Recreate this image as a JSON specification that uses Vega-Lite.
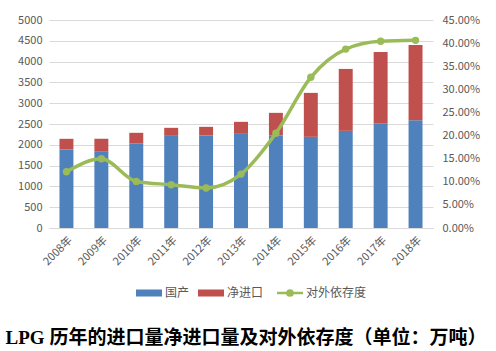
{
  "$schema": "https://vega.github.io/schema/vega-lite/v6.json",
  "autosize": {"type": "none"},
  "width": 384,
  "height": 208,
  "padding": {"left": 49, "top": 20, "right": 63, "bottom": 123},
  "background": "#ffffff",
  "config": {
    "view": {"stroke": null},
    "font": "Noto Sans CJK SC",
    "axis": {"labelColor": "#595959", "labelFontSize": 11, "labelFont": "Noto Sans CJK SC", "title": null}
  },
  "title": {
    "text": "LPG 历年的进口量净进口量及对外依存度（单位：万吨）",
    "orient": "bottom",
    "anchor": "middle",
    "font": "Liberation Serif, Noto Sans CJK SC",
    "fontSize": 19,
    "fontWeight": "bold",
    "color": "#000000",
    "offset": 28,
    "dx": 5
  },
  "data": {
    "values": [
      {"year": "2008年", "国产": 1888, "净进口": 256, "ratio": 0.1217},
      {"year": "2009年", "国产": 1832, "净进口": 312, "ratio": 0.1497},
      {"year": "2010年", "国产": 2040, "净进口": 248, "ratio": 0.1008},
      {"year": "2011年", "国产": 2216, "净进口": 192, "ratio": 0.0936},
      {"year": "2012年", "国产": 2224, "净进口": 208, "ratio": 0.0864},
      {"year": "2013年", "国产": 2264, "净进口": 288, "ratio": 0.1166},
      {"year": "2014年", "国产": 2224, "净进口": 544, "ratio": 0.205},
      {"year": "2015年", "国产": 2192, "净进口": 1056, "ratio": 0.326},
      {"year": "2016年", "国产": 2336, "净进口": 1488, "ratio": 0.387},
      {"year": "2017年", "国产": 2520, "净进口": 1712, "ratio": 0.404},
      {"year": "2018年", "国产": 2592, "净进口": 1808, "ratio": 0.406}
    ]
  },
  "encoding": {
    "x": {
      "field": "year",
      "type": "ordinal",
      "sort": null,
      "scale": {"paddingInner": 0.6, "paddingOuter": 0.3},
      "axis": {"labelAngle": -45, "ticks": false, "domain": true, "domainColor": "#D9D9D9", "labelPadding": 6, "grid": false}
    }
  },
  "layer": [
    {
      "transform": [{"fold": ["国产", "净进口"], "as": ["series", "value"]}],
      "mark": {"type": "bar"},
      "encoding": {
        "y": {
          "field": "value",
          "type": "quantitative",
          "stack": "zero",
          "scale": {"domain": [0, 5000]},
          "axis": {"format": "d", "values": [0, 500, 1000, 1500, 2000, 2500, 3000, 3500, 4000, 4500, 5000], "domain": false, "ticks": false, "grid": true, "gridColor": "#D9D9D9", "labelPadding": 7}
        },
        "color": {
          "field": "series",
          "type": "nominal",
          "scale": {"domain": ["国产", "净进口", "对外依存度"], "range": ["#4F81BD", "#C0504D", "#9BBB59"]},
          "legend": {
            "orient": "none",
            "legendX": 94,
            "legendY": 267,
            "direction": "horizontal",
            "gridAlign": "none",
            "title": null,
            "labelFontSize": 12,
            "labelColor": "#595959",
            "labelFont": "Noto Sans CJK SC",
            "symbolSize": 676,
            "columnPadding": 8,
            "labelOffset": 10,
            "symbolType": "M-1,-0.27H1V0.27H-1Z",
            "encode": {
              "symbols": {
                "update": {
                  "shape": {"signal": "datum.value === '对外依存度' ? 'M-1,0H-0.25M0.25,0H1M-0.2,0A0.2,0.2 0 1,0 0.2,0A0.2,0.2 0 1,0 -0.2,0Z' : 'M-1,-0.27H1V0.27H-1Z'"},
                  "strokeWidth": {"signal": "datum.value === '对外依存度' ? 2.5 : 0"}
                }
              }
            }
          }
        },
        "order": {"field": "series", "sort": "descending"}
      }
    },
    {
      "mark": {"type": "line", "color": "#9BBB59", "strokeWidth": 3.5, "interpolate": "monotone", "point": {"filled": true, "size": 55, "color": "#9BBB59"}},
      "encoding": {
        "y": {
          "field": "ratio",
          "type": "quantitative",
          "scale": {"domain": [0, 0.45]},
          "axis": {"orient": "right", "format": ".2%", "values": [0, 0.05, 0.1, 0.15, 0.2, 0.25, 0.3, 0.35, 0.4, 0.45], "domain": false, "ticks": false, "grid": false, "labelPadding": 9}
        },
        "color": {"datum": "对外依存度", "type": "nominal"}
      }
    }
  ],
  "resolve": {"scale": {"y": "independent"}}
}
